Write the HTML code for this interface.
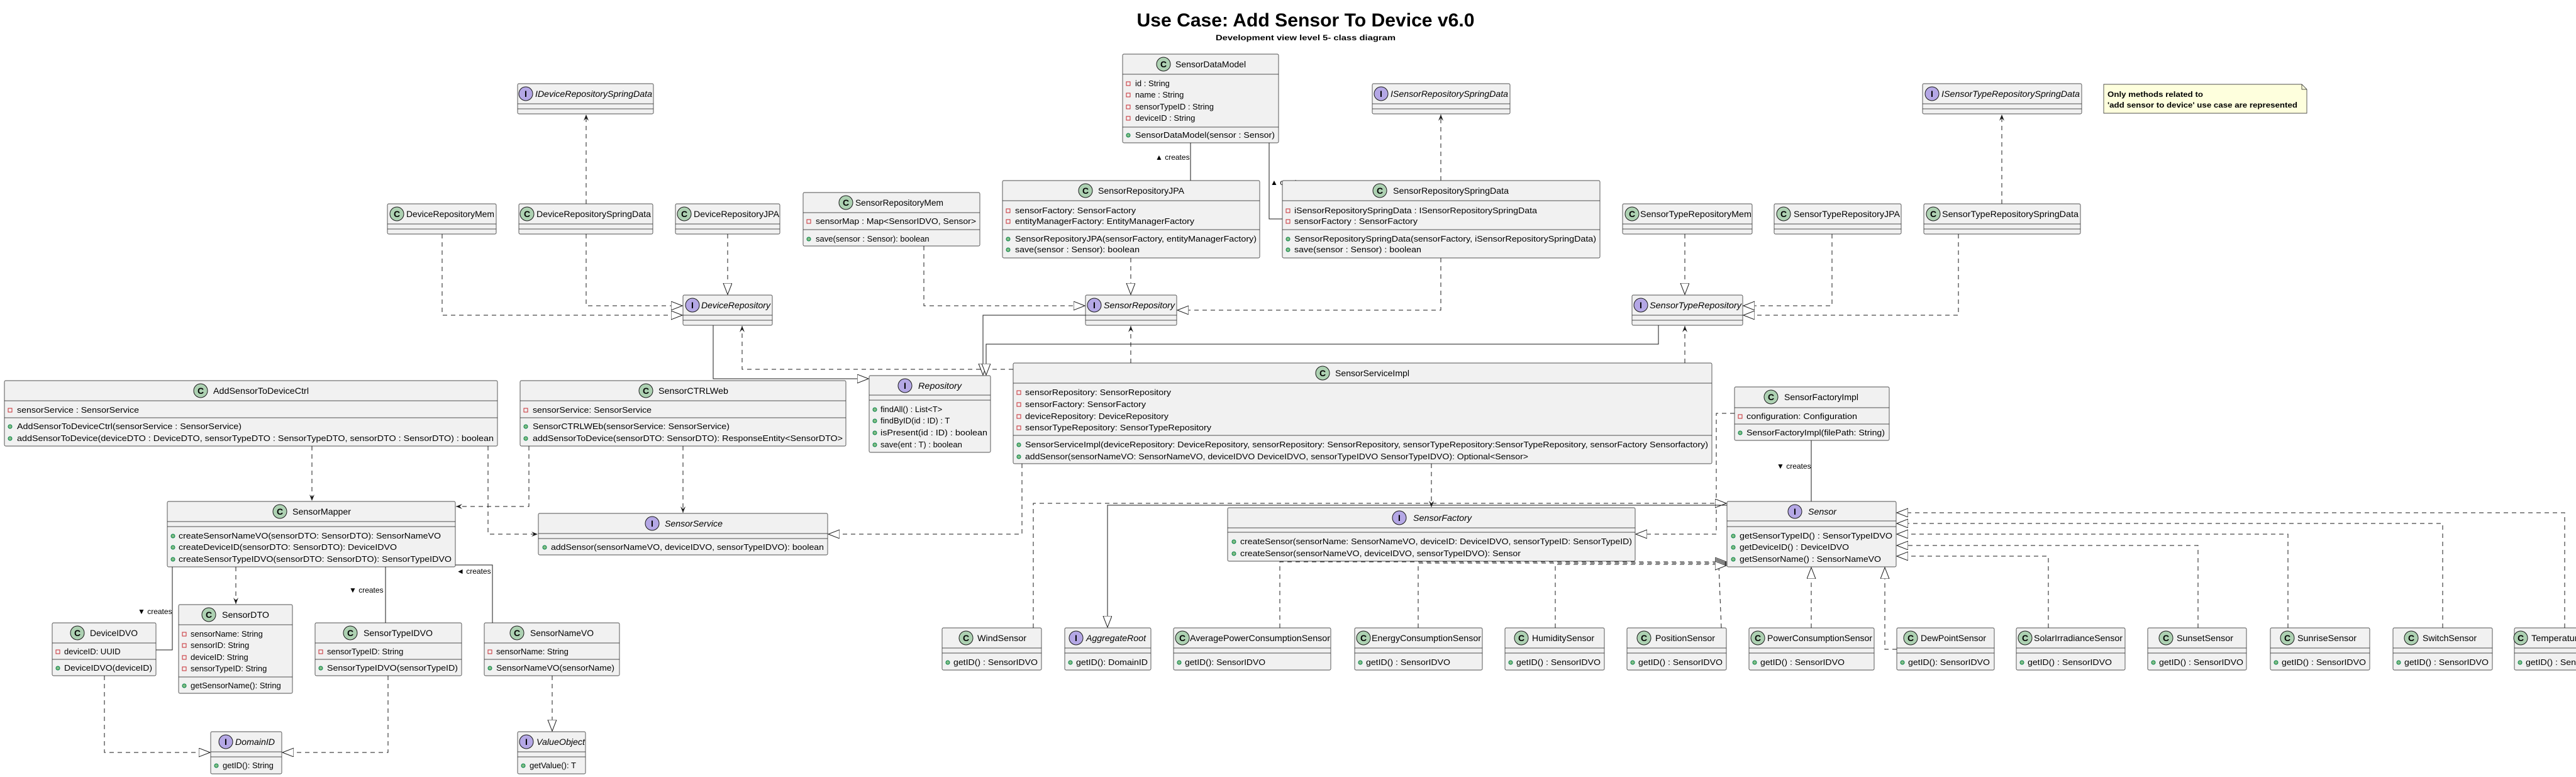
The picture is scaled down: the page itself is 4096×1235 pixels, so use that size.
<!DOCTYPE html>
<html><head><meta charset="utf-8"><style>
html,body{margin:0;padding:0;background:#fff;width:4096px;height:1235px;overflow:hidden}
svg{display:block;font-family:"Liberation Sans",sans-serif}
.b{fill:#F1F1F1;stroke:#181818;stroke-width:.7}
.s{stroke:#181818;stroke-width:.7}
.n{font-size:14px;fill:#000}
.i{font-style:italic}
.m{font-size:13px;fill:#000}
.c{fill:#ADD1B2;stroke:#181818;stroke-width:1}
.f{fill:#B4A7E5;stroke:#181818;stroke-width:1}
.L{font-size:14px;font-weight:bold;text-anchor:middle}
.pv{fill:none;stroke:#C82930;stroke-width:1}
.pb{fill:#84BE84;stroke:#038048;stroke-width:1}
.d{fill:none;stroke:#181818;stroke-width:1;stroke-dasharray:7,6}
.k{fill:none;stroke:#181818;stroke-width:1}
.lb{font-size:12px}
</style></head><body>
<svg width="4096" height="1235" viewBox="0 0 4096 1235" xmlns="http://www.w3.org/2000/svg">
<defs>
<marker id="t" markerWidth="22" markerHeight="18" refX="18" refY="7" orient="auto" markerUnits="userSpaceOnUse"><path d="M0,0 L18,7 L0,14 Z" fill="#fff" stroke="#181818"/></marker>
<marker id="a" markerWidth="12" markerHeight="10" refX="10" refY="4" orient="auto" markerUnits="userSpaceOnUse"><path d="M0,0 L10,4 L0,8 L4,4 Z" fill="#181818"/></marker>
</defs>

<!-- titles -->
<text x="2076" y="42" text-anchor="middle" font-size="30" font-weight="bold" textLength="537" lengthAdjust="spacingAndGlyphs">Use Case: Add Sensor To Device v6.0</text>
<text x="2076" y="64" text-anchor="middle" font-size="12" font-weight="bold" textLength="286" lengthAdjust="spacingAndGlyphs">Development view level 5- class diagram</text>

<!-- ========== CONNECTORS ========== -->
<polyline class="d" points="932,324 932,182" marker-end="url(#a)"/>
<polyline class="d" points="703,372 703,501 1085,501" marker-end="url(#t)"/>
<polyline class="d" points="932,372 932,486 1085,486" marker-end="url(#t)"/>
<polyline class="d" points="1157,372 1157,468" marker-end="url(#t)"/>
<polyline class="k" points="1134,517 1134,602 1381,602" marker-end="url(#t)"/>
<polyline class="d" points="1611,587 1180,587 1180,518" marker-end="url(#a)"/>
<line class="k" x1="1893" y1="227" x2="1893" y2="287"/>
<text x="1837" y="254" class="lb">▲ creates</text>
<polyline class="k" points="2018,227 2018,348 2039,348"/>
<text x="2020" y="294" class="lb">▲ creates</text>
<polyline class="d" points="2291,287 2291,182" marker-end="url(#a)"/>
<polyline class="d" points="1469,391 1469,486 1725,486" marker-end="url(#t)"/>
<polyline class="d" points="1798,410 1798,468" marker-end="url(#t)"/>
<polyline class="d" points="2291,410 2291,493 1872,493" marker-end="url(#t)"/>
<polyline class="k" points="1726,501 1563,501 1563,596" marker-end="url(#t)"/>
<polyline class="k" points="2637,517 2637,547 1568,547 1568,596" marker-end="url(#t)"/>
<polyline class="d" points="1798,577 1798,518" marker-end="url(#a)"/>
<polyline class="d" points="2679,577 2679,518" marker-end="url(#a)"/>
<polyline class="d" points="2679,372 2679,468" marker-end="url(#t)"/>
<polyline class="d" points="2913,372 2913,486 2772,486" marker-end="url(#t)"/>
<polyline class="d" points="3114,372 3114,501 2772,501" marker-end="url(#t)"/>
<polyline class="d" points="3183,324 3183,182" marker-end="url(#a)"/>
<polyline class="d" points="496,709 496,796" marker-end="url(#a)"/>
<polyline class="d" points="776,709 776,849 855,849" marker-end="url(#a)"/>
<polyline class="d" points="841,709 841,805 725,805" marker-end="url(#a)"/>
<polyline class="d" points="1086,709 1086,815" marker-end="url(#a)"/>
<polyline class="d" points="1625,737 1625,849 1317,849" marker-end="url(#t)"/>
<polyline class="k" points="274,901 274,1033 248,1033"/>
<text x="219" y="976" class="lb">▼ creates</text>
<polyline class="d" points="375,901 375,960" marker-end="url(#a)"/>
<line class="k" x1="613" y1="901" x2="613" y2="990"/>
<text x="555" y="942" class="lb">▼ creates</text>
<polyline class="k" points="783,990 783,898 724,898"/>
<text x="726" y="912" class="lb">◄ creates</text>
<polyline class="d" points="166,1074 166,1196 334,1196" marker-end="url(#t)"/>
<polyline class="d" points="617,1074 617,1196 449,1196" marker-end="url(#t)"/>
<polyline class="d" points="878,1074 878,1162" marker-end="url(#t)"/>
<polyline class="d" points="2276,737 2276,806" marker-end="url(#a)"/>
<polyline class="d" points="2758,657 2729,657 2729,849 2601,849" marker-end="url(#t)"/>
<line class="k" x1="2880" y1="700" x2="2880" y2="797"/>
<text x="2825" y="745" class="lb">▼ creates</text>
<polyline class="d" points="1643,998 1643,800 2745,800" marker-end="url(#t)"/>
<polyline class="k" points="2746,803 1761,803 1761,997" marker-end="url(#t)"/>
<polyline class="d" points="2035,998 2035,893 2745,893" marker-end="url(#t)"/>
<polyline class="d" points="2255,998 2255,895 2745,895" marker-end="url(#t)"/>
<polyline class="d" points="2473,998 2473,897 2745,897" marker-end="url(#t)"/>
<polyline class="d" points="2737,998 2733,899 2745,899" marker-end="url(#t)"/>
<polyline class="d" points="2880,998 2880,902" marker-end="url(#t)"/>
<polyline class="d" points="3016,1032 2997,1032 2997,902" marker-end="url(#t)"/>
<polyline class="d" points="3257,998 3257,884 3016,884" marker-end="url(#t)"/>
<polyline class="d" points="3495,998 3495,867 3016,867" marker-end="url(#t)"/>
<polyline class="d" points="3638,998 3638,849 3016,849" marker-end="url(#t)"/>
<polyline class="d" points="3884,998 3884,832 3016,832" marker-end="url(#t)"/>
<polyline class="d" points="4078,998 4078,815 3016,815" marker-end="url(#t)"/>

<!-- ========== BOXES ========== -->
<!-- IDeviceRepositorySpringData -->
<rect class="b" x="823" y="133" width="216" height="48" rx="2"/><line class="s" x1="823" x2="1039" y1="165" y2="165"/><line class="s" x1="823" x2="1039" y1="173" y2="173"/>
<circle class="f" cx="836" cy="149" r="11"/><text x="836" y="154" class="L">I</text><text x="851" y="154" class="n i" textLength="186" lengthAdjust="spacingAndGlyphs">IDeviceRepositorySpringData</text>
<!-- ISensorRepositorySpringData -->
<rect class="b" x="2182" y="133" width="219" height="48" rx="2"/><line class="s" x1="2182" x2="2401" y1="165" y2="165"/><line class="s" x1="2182" x2="2401" y1="173" y2="173"/>
<circle class="f" cx="2196" cy="149" r="11"/><text x="2196" y="154" class="L">I</text><text x="2211" y="154" class="n i" textLength="187" lengthAdjust="spacingAndGlyphs">ISensorRepositorySpringData</text>
<!-- ISensorTypeRepositorySpringData -->
<rect class="b" x="3057" y="133" width="253" height="48" rx="2"/><line class="s" x1="3057" x2="3310" y1="165" y2="165"/><line class="s" x1="3057" x2="3310" y1="173" y2="173"/>
<circle class="f" cx="3072" cy="149" r="11"/><text x="3072" y="154" class="L">I</text><text x="3087" y="154" class="n i" textLength="220" lengthAdjust="spacingAndGlyphs">ISensorTypeRepositorySpringData</text>
<!-- Note -->
<path d="M3345,134 L3660,134 L3668,142 L3668,180 L3345,180 Z" fill="#FEFFDD" stroke="#181818" stroke-width=".7"/><path d="M3660,134 L3660,142 L3668,142" fill="none" stroke="#181818" stroke-width=".7"/>
<text x="3351" y="154" font-size="12" font-weight="bold" textLength="152" lengthAdjust="spacingAndGlyphs">Only methods related to</text>
<text x="3351" y="171" font-size="12" font-weight="bold" textLength="302" lengthAdjust="spacingAndGlyphs">'add sensor to device' use case are represented</text>

<!-- SensorDataModel -->
<rect class="b" x="1785" y="86" width="248" height="141" rx="2"/><line class="s" x1="1785" x2="2033" y1="118" y2="118"/><line class="s" x1="1785" x2="2033" y1="202" y2="202"/>
<circle class="c" cx="1850" cy="102" r="11"/><text x="1850" y="107" class="L">C</text><text x="1869" y="107" class="n">SensorDataModel</text>
<rect class="pv" x="1791" y="130" width="6" height="6"/><text x="1805" y="137" class="m">id : String</text>
<rect class="pv" x="1791" y="148" width="6" height="6"/><text x="1805" y="155" class="m">name : String</text>
<rect class="pv" x="1791" y="167" width="6" height="6"/><text x="1805" y="174" class="m">sensorTypeID : String</text>
<rect class="pv" x="1791" y="185" width="6" height="6"/><text x="1805" y="192" class="m">deviceID : String</text>
<circle class="pb" cx="1794" cy="215" r="3"/><text x="1805" y="219" class="m" textLength="222" lengthAdjust="spacingAndGlyphs">SensorDataModel(sensor : Sensor)</text>

<!-- DeviceRepositoryMem -->
<rect class="b" x="616" y="324" width="173" height="48" rx="2"/><line class="s" x1="616" x2="789" y1="356" y2="356"/><line class="s" x1="616" x2="789" y1="364" y2="364"/>
<circle class="c" cx="631" cy="340" r="11"/><text x="631" y="345" class="L">C</text><text x="646" y="345" class="n" textLength="140" lengthAdjust="spacingAndGlyphs">DeviceRepositoryMem</text>
<!-- DeviceRepositorySpringData -->
<rect class="b" x="825" y="324" width="213" height="48" rx="2"/><line class="s" x1="825" x2="1038" y1="356" y2="356"/><line class="s" x1="825" x2="1038" y1="364" y2="364"/>
<circle class="c" cx="838" cy="340" r="11"/><text x="838" y="345" class="L">C</text><text x="853" y="345" class="n" textLength="182" lengthAdjust="spacingAndGlyphs">DeviceRepositorySpringData</text>
<!-- DeviceRepositoryJPA -->
<rect class="b" x="1074" y="324" width="166" height="48" rx="2"/><line class="s" x1="1074" x2="1240" y1="356" y2="356"/><line class="s" x1="1074" x2="1240" y1="364" y2="364"/>
<circle class="c" cx="1088" cy="340" r="11"/><text x="1088" y="345" class="L">C</text><text x="1103" y="345" class="n" textLength="136" lengthAdjust="spacingAndGlyphs">DeviceRepositoryJPA</text>

<!-- SensorRepositoryMem -->
<rect class="b" x="1277" y="306" width="281" height="85" rx="2"/><line class="s" x1="1277" x2="1558" y1="338" y2="338"/><line class="s" x1="1277" x2="1558" y1="365" y2="365"/>
<circle class="c" cx="1345" cy="322" r="11"/><text x="1345" y="327" class="L">C</text><text x="1360" y="327" class="n" textLength="140" lengthAdjust="spacingAndGlyphs">SensorRepositoryMem</text>
<rect class="pv" x="1283" y="349" width="6" height="6"/><text x="1297" y="356" class="m" textLength="255" lengthAdjust="spacingAndGlyphs">sensorMap : Map&lt;SensorIDVO, Sensor&gt;</text>
<circle class="pb" cx="1286" cy="380" r="3"/><text x="1297" y="384" class="m">save(sensor : Sensor): boolean</text>

<!-- SensorRepositoryJPA -->
<rect class="b" x="1594" y="287" width="409" height="123" rx="2"/><line class="s" x1="1594" x2="2003" y1="319" y2="319"/><line class="s" x1="1594" x2="2003" y1="365" y2="365"/>
<circle class="c" cx="1726" cy="303" r="11"/><text x="1726" y="308" class="L">C</text><text x="1746" y="308" class="n" textLength="137" lengthAdjust="spacingAndGlyphs">SensorRepositoryJPA</text>
<rect class="pv" x="1600" y="332" width="6" height="6"/><text x="1614" y="339" class="m" textLength="192" lengthAdjust="spacingAndGlyphs">sensorFactory: SensorFactory</text>
<rect class="pv" x="1600" y="349" width="6" height="6"/><text x="1614" y="356" class="m" textLength="285" lengthAdjust="spacingAndGlyphs">entityManagerFactory: EntityManagerFactory</text>
<circle class="pb" cx="1603" cy="380" r="3"/><text x="1614" y="384" class="m" textLength="384" lengthAdjust="spacingAndGlyphs">SensorRepositoryJPA(sensorFactory, entityManagerFactory)</text>
<circle class="pb" cx="1603" cy="397" r="3"/><text x="1614" y="401" class="m" textLength="198" lengthAdjust="spacingAndGlyphs">save(sensor : Sensor): boolean</text>

<!-- SensorRepositorySpringData -->
<rect class="b" x="2039" y="287" width="505" height="123" rx="2"/><line class="s" x1="2039" x2="2544" y1="319" y2="319"/><line class="s" x1="2039" x2="2544" y1="365" y2="365"/>
<circle class="c" cx="2194" cy="303" r="11"/><text x="2194" y="308" class="L">C</text><text x="2215" y="308" class="n" textLength="184" lengthAdjust="spacingAndGlyphs">SensorRepositorySpringData</text>
<rect class="pv" x="2045" y="332" width="6" height="6"/><text x="2058" y="339" class="m" textLength="386" lengthAdjust="spacingAndGlyphs">iSensorRepositorySpringData : ISensorRepositorySpringData</text>
<rect class="pv" x="2045" y="349" width="6" height="6"/><text x="2058" y="356" class="m" textLength="196" lengthAdjust="spacingAndGlyphs">sensorFactory : SensorFactory</text>
<circle class="pb" cx="2048" cy="380" r="3"/><text x="2058" y="384" class="m" textLength="480" lengthAdjust="spacingAndGlyphs">SensorRepositorySpringData(sensorFactory, iSensorRepositorySpringData)</text>
<circle class="pb" cx="2048" cy="397" r="3"/><text x="2058" y="401" class="m" textLength="202" lengthAdjust="spacingAndGlyphs">save(sensor : Sensor) : boolean</text>

<!-- SensorTypeRepositoryMem -->
<rect class="b" x="2580" y="324" width="206" height="48" rx="2"/><line class="s" x1="2580" x2="2786" y1="356" y2="356"/><line class="s" x1="2580" x2="2786" y1="364" y2="364"/>
<circle class="c" cx="2595" cy="340" r="11"/><text x="2595" y="345" class="L">C</text><text x="2608" y="345" class="n" textLength="177" lengthAdjust="spacingAndGlyphs">SensorTypeRepositoryMem</text>
<!-- SensorTypeRepositoryJPA -->
<rect class="b" x="2821" y="324" width="202" height="48" rx="2"/><line class="s" x1="2821" x2="3023" y1="356" y2="356"/><line class="s" x1="2821" x2="3023" y1="364" y2="364"/>
<circle class="c" cx="2836" cy="340" r="11"/><text x="2836" y="345" class="L">C</text><text x="2852" y="345" class="n" textLength="169" lengthAdjust="spacingAndGlyphs">SensorTypeRepositoryJPA</text>
<!-- SensorTypeRepositorySpringData -->
<rect class="b" x="3059" y="324" width="249" height="48" rx="2"/><line class="s" x1="3059" x2="3308" y1="356" y2="356"/><line class="s" x1="3059" x2="3308" y1="364" y2="364"/>
<circle class="c" cx="3074" cy="340" r="11"/><text x="3074" y="345" class="L">C</text><text x="3088" y="345" class="n" textLength="217" lengthAdjust="spacingAndGlyphs">SensorTypeRepositorySpringData</text>

<!-- DeviceRepository -->
<rect class="b" x="1086" y="469" width="142" height="48" rx="2"/><line class="s" x1="1086" x2="1228" y1="501" y2="501"/><line class="s" x1="1086" x2="1228" y1="509" y2="509"/>
<circle class="f" cx="1101" cy="485" r="11"/><text x="1101" y="490" class="L">I</text><text x="1115" y="490" class="n i" textLength="110" lengthAdjust="spacingAndGlyphs">DeviceRepository</text>
<!-- SensorRepository -->
<rect class="b" x="1726" y="469" width="145" height="48" rx="2"/><line class="s" x1="1726" x2="1871" y1="501" y2="501"/><line class="s" x1="1726" x2="1871" y1="509" y2="509"/>
<circle class="f" cx="1740" cy="485" r="11"/><text x="1740" y="490" class="L">I</text><text x="1755" y="490" class="n i" textLength="113" lengthAdjust="spacingAndGlyphs">SensorRepository</text>
<!-- SensorTypeRepository -->
<rect class="b" x="2595" y="469" width="176" height="48" rx="2"/><line class="s" x1="2595" x2="2771" y1="501" y2="501"/><line class="s" x1="2595" x2="2771" y1="509" y2="509"/>
<circle class="f" cx="2609" cy="485" r="11"/><text x="2609" y="490" class="L">I</text><text x="2623" y="490" class="n i" textLength="146" lengthAdjust="spacingAndGlyphs">SensorTypeRepository</text>

<!-- AddSensorToDeviceCtrl -->
<rect class="b" x="7" y="605" width="784" height="104" rx="2"/><line class="s" x1="7" x2="791" y1="637" y2="637"/><line class="s" x1="7" x2="791" y1="664" y2="664"/>
<circle class="c" cx="319" cy="621" r="11"/><text x="319" y="626" class="L">C</text><text x="339" y="626" class="n" textLength="152" lengthAdjust="spacingAndGlyphs">AddSensorToDeviceCtrl</text>
<rect class="pv" x="13" y="649" width="6" height="6"/><text x="27" y="656" class="m" textLength="194" lengthAdjust="spacingAndGlyphs">sensorService : SensorService</text>
<circle class="pb" cx="16" cy="678" r="3"/><text x="27" y="682" class="m" textLength="357" lengthAdjust="spacingAndGlyphs">AddSensorToDeviceCtrl(sensorService : SensorService)</text>
<circle class="pb" cx="16" cy="697" r="3"/><text x="27" y="701" class="m" textLength="758" lengthAdjust="spacingAndGlyphs">addSensorToDevice(deviceDTO : DeviceDTO, sensorTypeDTO : SensorTypeDTO, sensorDTO : SensorDTO) : boolean</text>

<!-- SensorCTRLWeb -->
<rect class="b" x="827" y="605" width="518" height="104" rx="2"/><line class="s" x1="827" x2="1345" y1="637" y2="637"/><line class="s" x1="827" x2="1345" y1="664" y2="664"/>
<circle class="c" cx="1027" cy="621" r="11"/><text x="1027" y="626" class="L">C</text><text x="1047" y="626" class="n" textLength="111" lengthAdjust="spacingAndGlyphs">SensorCTRLWeb</text>
<rect class="pv" x="833" y="649" width="6" height="6"/><text x="847" y="656" class="m" textLength="189" lengthAdjust="spacingAndGlyphs">sensorService: SensorService</text>
<circle class="pb" cx="836" cy="678" r="3"/><text x="847" y="682" class="m" textLength="313" lengthAdjust="spacingAndGlyphs">SensorCTRLWEb(sensorService: SensorService)</text>
<circle class="pb" cx="836" cy="697" r="3"/><text x="847" y="701" class="m" textLength="493" lengthAdjust="spacingAndGlyphs">addSensorToDevice(sensorDTO: SensorDTO): ResponseEntity&lt;SensorDTO&gt;</text>

<!-- Repository -->
<rect class="b" x="1382" y="597" width="193" height="122" rx="2"/><line class="s" x1="1382" x2="1575" y1="628" y2="628"/><line class="s" x1="1382" x2="1575" y1="636" y2="636"/>
<circle class="f" cx="1439" cy="613" r="11"/><text x="1439" y="618" class="L">I</text><text x="1460" y="618" class="n i" textLength="69" lengthAdjust="spacingAndGlyphs">Repository</text>
<circle class="pb" cx="1391" cy="651" r="3"/><text x="1400" y="655" class="m">findAll() : List&lt;T&gt;</text>
<circle class="pb" cx="1391" cy="669" r="3"/><text x="1400" y="673" class="m">findByID(id : ID) : T</text>
<circle class="pb" cx="1391" cy="688" r="3"/><text x="1400" y="692" class="m" textLength="170" lengthAdjust="spacingAndGlyphs">isPresent(id : ID) : boolean</text>
<circle class="pb" cx="1391" cy="707" r="3"/><text x="1400" y="711" class="m">save(ent : T) : boolean</text>

<!-- SensorServiceImpl -->
<rect class="b" x="1611" y="577" width="1111" height="160" rx="2"/><line class="s" x1="1611" x2="2722" y1="609" y2="609"/><line class="s" x1="1611" x2="2722" y1="692" y2="692"/>
<circle class="c" cx="2103" cy="593" r="11"/><text x="2103" y="598" class="L">C</text><text x="2123" y="598" class="n" textLength="118" lengthAdjust="spacingAndGlyphs">SensorServiceImpl</text>
<rect class="pv" x="1617" y="621" width="6" height="6"/><text x="1630" y="628" class="m" textLength="232" lengthAdjust="spacingAndGlyphs">sensorRepository: SensorRepository</text>
<rect class="pv" x="1617" y="640" width="6" height="6"/><text x="1630" y="647" class="m" textLength="192" lengthAdjust="spacingAndGlyphs">sensorFactory: SensorFactory</text>
<rect class="pv" x="1617" y="659" width="6" height="6"/><text x="1630" y="666" class="m" textLength="228" lengthAdjust="spacingAndGlyphs">deviceRepository: DeviceRepository</text>
<rect class="pv" x="1617" y="677" width="6" height="6"/><text x="1630" y="684" class="m" textLength="296" lengthAdjust="spacingAndGlyphs">sensorTypeRepository: SensorTypeRepository</text>
<circle class="pb" cx="1620" cy="707" r="3"/><text x="1630" y="711" class="m" textLength="1086" lengthAdjust="spacingAndGlyphs">SensorServiceImpl(deviceRepository: DeviceRepository, sensorRepository: SensorRepository, sensorTypeRepository:SensorTypeRepository, sensorFactory Sensorfactory)</text>
<circle class="pb" cx="1620" cy="726" r="3"/><text x="1630" y="730" class="m" textLength="800" lengthAdjust="spacingAndGlyphs">addSensor(sensorNameVO: SensorNameVO, deviceIDVO DeviceIDVO, sensorTypeIDVO SensorTypeIDVO): Optional&lt;Sensor&gt;</text>

<!-- SensorFactoryImpl -->
<rect class="b" x="2758" y="615" width="246" height="85" rx="2"/><line class="s" x1="2758" x2="3004" y1="648" y2="648"/><line class="s" x1="2758" x2="3004" y1="674" y2="674"/>
<circle class="c" cx="2816" cy="631" r="11"/><text x="2816" y="636" class="L">C</text><text x="2837" y="636" class="n" textLength="118" lengthAdjust="spacingAndGlyphs">SensorFactoryImpl</text>
<rect class="pv" x="2764" y="659" width="6" height="6"/><text x="2777" y="666" class="m" textLength="176" lengthAdjust="spacingAndGlyphs">configuration: Configuration</text>
<circle class="pb" cx="2767" cy="688" r="3"/><text x="2777" y="692" class="m" textLength="220" lengthAdjust="spacingAndGlyphs">SensorFactoryImpl(filePath: String)</text>

<!-- SensorMapper -->
<rect class="b" x="266" y="797" width="458" height="104" rx="2"/><line class="s" x1="266" x2="724" y1="829" y2="829"/><line class="s" x1="266" x2="724" y1="837" y2="837"/>
<circle class="c" cx="445" cy="813" r="11"/><text x="445" y="818" class="L">C</text><text x="465" y="818" class="n" textLength="93" lengthAdjust="spacingAndGlyphs">SensorMapper</text>
<circle class="pb" cx="275" cy="852" r="3"/><text x="284" y="856" class="m" textLength="417" lengthAdjust="spacingAndGlyphs">createSensorNameVO(sensorDTO: SensorDTO): SensorNameVO</text>
<circle class="pb" cx="275" cy="870" r="3"/><text x="284" y="874" class="m" textLength="347" lengthAdjust="spacingAndGlyphs">createDeviceID(sensorDTO: SensorDTO): DeviceIDVO</text>
<circle class="pb" cx="275" cy="889" r="3"/><text x="284" y="893" class="m" textLength="434" lengthAdjust="spacingAndGlyphs">createSensorTypeIDVO(sensorDTO: SensorDTO): SensorTypeIDVO</text>

<!-- SensorService -->
<rect class="b" x="856" y="816" width="460" height="66" rx="2"/><line class="s" x1="856" x2="1316" y1="848" y2="848"/><line class="s" x1="856" x2="1316" y1="856" y2="856"/>
<circle class="f" cx="1037" cy="832" r="11"/><text x="1037" y="837" class="L">I</text><text x="1057" y="837" class="n i" textLength="92" lengthAdjust="spacingAndGlyphs">SensorService</text>
<circle class="pb" cx="866" cy="870" r="3"/><text x="876" y="874" class="m" textLength="434" lengthAdjust="spacingAndGlyphs">addSensor(sensorNameVO, deviceIDVO, sensorTypeIDVO): boolean</text>

<!-- SensorFactory -->
<rect class="b" x="1952" y="807" width="648" height="85" rx="2"/><line class="s" x1="1952" x2="2600" y1="839" y2="839"/><line class="s" x1="1952" x2="2600" y1="846" y2="846"/>
<circle class="f" cx="2225" cy="823" r="11"/><text x="2225" y="828" class="L">I</text><text x="2247" y="828" class="n i" textLength="93" lengthAdjust="spacingAndGlyphs">SensorFactory</text>
<circle class="pb" cx="1962" cy="861" r="3"/><text x="1972" y="865" class="m" textLength="623" lengthAdjust="spacingAndGlyphs">createSensor(sensorName: SensorNameVO, deviceID: DeviceIDVO, sensorTypeID: SensorTypeID)</text>
<circle class="pb" cx="1962" cy="880" r="3"/><text x="1972" y="884" class="m" textLength="446" lengthAdjust="spacingAndGlyphs">createSensor(sensorNameVO, deviceIDVO, sensorTypeIDVO): Sensor</text>

<!-- Sensor -->
<rect class="b" x="2746" y="797" width="269" height="104" rx="2"/><line class="s" x1="2746" x2="3015" y1="828" y2="828"/><line class="s" x1="2746" x2="3015" y1="837" y2="837"/>
<circle class="f" cx="2854" cy="813" r="11"/><text x="2854" y="818" class="L">I</text><text x="2875" y="818" class="n i" textLength="45" lengthAdjust="spacingAndGlyphs">Sensor</text>
<circle class="pb" cx="2756" cy="852" r="3"/><text x="2766" y="856" class="m" textLength="243" lengthAdjust="spacingAndGlyphs">getSensorTypeID() : SensorTypeIDVO</text>
<circle class="pb" cx="2756" cy="870" r="3"/><text x="2766" y="874" class="m" textLength="174" lengthAdjust="spacingAndGlyphs">getDeviceID() : DeviceIDVO</text>
<circle class="pb" cx="2756" cy="889" r="3"/><text x="2766" y="893" class="m" textLength="225" lengthAdjust="spacingAndGlyphs">getSensorName() : SensorNameVO</text>

<!-- DeviceIDVO -->
<rect class="b" x="83" y="990" width="165" height="84" rx="2"/><line class="s" x1="83" x2="248" y1="1022" y2="1022"/><line class="s" x1="83" x2="248" y1="1048" y2="1048"/>
<circle class="c" cx="123" cy="1006" r="11"/><text x="123" y="1011" class="L">C</text><text x="143" y="1011" class="n" textLength="76" lengthAdjust="spacingAndGlyphs">DeviceIDVO</text>
<rect class="pv" x="89" y="1033" width="6" height="6"/><text x="102" y="1040" class="m">deviceID: UUID</text>
<circle class="pb" cx="92" cy="1062" r="3"/><text x="102" y="1066" class="m" textLength="140" lengthAdjust="spacingAndGlyphs">DeviceIDVO(deviceID)</text>

<!-- SensorDTO -->
<rect class="b" x="284" y="961" width="181" height="141" rx="2"/><line class="s" x1="284" x2="465" y1="993" y2="993"/><line class="s" x1="284" x2="465" y1="1076" y2="1076"/>
<circle class="c" cx="332" cy="977" r="11"/><text x="332" y="982" class="L">C</text><text x="353" y="982" class="n" textLength="75" lengthAdjust="spacingAndGlyphs">SensorDTO</text>
<rect class="pv" x="290" y="1005" width="6" height="6"/><text x="303" y="1012" class="m">sensorName: String</text>
<rect class="pv" x="290" y="1023" width="6" height="6"/><text x="303" y="1030" class="m">sensorID: String</text>
<rect class="pv" x="290" y="1042" width="6" height="6"/><text x="303" y="1049" class="m">deviceID: String</text>
<rect class="pv" x="290" y="1060" width="6" height="6"/><text x="303" y="1067" class="m">sensorTypeID: String</text>
<circle class="pb" cx="293" cy="1090" r="3"/><text x="303" y="1094" class="m">getSensorName(): String</text>

<!-- SensorTypeIDVO -->
<rect class="b" x="501" y="990" width="233" height="84" rx="2"/><line class="s" x1="501" x2="734" y1="1022" y2="1022"/><line class="s" x1="501" x2="734" y1="1048" y2="1048"/>
<circle class="c" cx="557" cy="1006" r="11"/><text x="557" y="1011" class="L">C</text><text x="578" y="1011" class="n" textLength="110" lengthAdjust="spacingAndGlyphs">SensorTypeIDVO</text>
<rect class="pv" x="507" y="1033" width="6" height="6"/><text x="520" y="1040" class="m">sensorTypeID: String</text>
<circle class="pb" cx="510" cy="1062" r="3"/><text x="520" y="1066" class="m" textLength="208" lengthAdjust="spacingAndGlyphs">SensorTypeIDVO(sensorTypeID)</text>

<!-- SensorNameVO -->
<rect class="b" x="770" y="990" width="215" height="84" rx="2"/><line class="s" x1="770" x2="985" y1="1022" y2="1022"/><line class="s" x1="770" x2="985" y1="1048" y2="1048"/>
<circle class="c" cx="822" cy="1006" r="11"/><text x="822" y="1011" class="L">C</text><text x="843" y="1011" class="n" textLength="101" lengthAdjust="spacingAndGlyphs">SensorNameVO</text>
<rect class="pv" x="776" y="1033" width="6" height="6"/><text x="789" y="1040" class="m">sensorName: String</text>
<circle class="pb" cx="779" cy="1062" r="3"/><text x="789" y="1066" class="m" textLength="188" lengthAdjust="spacingAndGlyphs">SensorNameVO(sensorName)</text>

<!-- DomainID -->
<rect class="b" x="335" y="1163" width="113" height="67" rx="2"/><line class="s" x1="335" x2="448" y1="1195" y2="1195"/><line class="s" x1="335" x2="448" y1="1203" y2="1203"/>
<circle class="f" cx="359" cy="1179" r="11"/><text x="359" y="1184" class="L">I</text><text x="374" y="1184" class="n i" textLength="63" lengthAdjust="spacingAndGlyphs">DomainID</text>
<circle class="pb" cx="344" cy="1217" r="3"/><text x="354" y="1221" class="m">getID(): String</text>
<!-- ValueObject -->
<rect class="b" x="823" y="1163" width="108" height="67" rx="2"/><line class="s" x1="823" x2="931" y1="1195" y2="1195"/><line class="s" x1="823" x2="931" y1="1203" y2="1203"/>
<circle class="f" cx="837" cy="1179" r="11"/><text x="837" y="1184" class="L">I</text><text x="853" y="1184" class="n i" textLength="77" lengthAdjust="spacingAndGlyphs">ValueObject</text>
<circle class="pb" cx="832" cy="1217" r="3"/><text x="842" y="1221" class="m">getValue(): T</text>

<!-- Bottom row -->
<rect class="b" x="1498" y="998" width="158" height="67" rx="2"/><line class="s" x1="1498" x2="1656" y1="1030" y2="1030"/><line class="s" x1="1498" x2="1656" y1="1038" y2="1038"/>
<circle class="c" cx="1536" cy="1014" r="11"/><text x="1536" y="1019" class="L">C</text><text x="1554" y="1019" class="n" textLength="78" lengthAdjust="spacingAndGlyphs">WindSensor</text>
<circle class="pb" cx="1507" cy="1053" r="3"/><text x="1516" y="1057" class="m" textLength="134" lengthAdjust="spacingAndGlyphs">getID() : SensorIDVO</text>

<rect class="b" x="1693" y="998" width="137" height="67" rx="2"/><line class="s" x1="1693" x2="1830" y1="1030" y2="1030"/><line class="s" x1="1693" x2="1830" y1="1038" y2="1038"/>
<circle class="f" cx="1711" cy="1014" r="11"/><text x="1711" y="1019" class="L">I</text><text x="1727" y="1019" class="n i" textLength="95" lengthAdjust="spacingAndGlyphs">AggregateRoot</text>
<circle class="pb" cx="1702" cy="1053" r="3"/><text x="1711" y="1057" class="m" textLength="114" lengthAdjust="spacingAndGlyphs">getID(): DomainID</text>

<rect class="b" x="1866" y="998" width="250" height="67" rx="2"/><line class="s" x1="1866" x2="2116" y1="1030" y2="1030"/><line class="s" x1="1866" x2="2116" y1="1038" y2="1038"/>
<circle class="c" cx="1880" cy="1014" r="11"/><text x="1880" y="1019" class="L">C</text><text x="1892" y="1019" class="n" textLength="223" lengthAdjust="spacingAndGlyphs">AveragePowerConsumptionSensor</text>
<circle class="pb" cx="1875" cy="1053" r="3"/><text x="1884" y="1057" class="m" textLength="128" lengthAdjust="spacingAndGlyphs">getID(): SensorIDVO</text>

<rect class="b" x="2154" y="998" width="203" height="67" rx="2"/><line class="s" x1="2154" x2="2357" y1="1030" y2="1030"/><line class="s" x1="2154" x2="2357" y1="1038" y2="1038"/>
<circle class="c" cx="2168" cy="1014" r="11"/><text x="2168" y="1019" class="L">C</text><text x="2181" y="1019" class="n" textLength="174" lengthAdjust="spacingAndGlyphs">EnergyConsumptionSensor</text>
<circle class="pb" cx="2163" cy="1053" r="3"/><text x="2172" y="1057" class="m" textLength="134" lengthAdjust="spacingAndGlyphs">getID() : SensorIDVO</text>

<rect class="b" x="2393" y="998" width="158" height="67" rx="2"/><line class="s" x1="2393" x2="2551" y1="1030" y2="1030"/><line class="s" x1="2393" x2="2551" y1="1038" y2="1038"/>
<circle class="c" cx="2419" cy="1014" r="11"/><text x="2419" y="1019" class="L">C</text><text x="2436" y="1019" class="n" textLength="99" lengthAdjust="spacingAndGlyphs">HumiditySensor</text>
<circle class="pb" cx="2402" cy="1053" r="3"/><text x="2411" y="1057" class="m" textLength="134" lengthAdjust="spacingAndGlyphs">getID() : SensorIDVO</text>

<rect class="b" x="2587" y="998" width="158" height="67" rx="2"/><line class="s" x1="2587" x2="2745" y1="1030" y2="1030"/><line class="s" x1="2587" x2="2745" y1="1038" y2="1038"/>
<circle class="c" cx="2614" cy="1014" r="11"/><text x="2614" y="1019" class="L">C</text><text x="2632" y="1019" class="n" textLength="95" lengthAdjust="spacingAndGlyphs">PositionSensor</text>
<circle class="pb" cx="2596" cy="1053" r="3"/><text x="2605" y="1057" class="m" textLength="134" lengthAdjust="spacingAndGlyphs">getID() : SensorIDVO</text>

<rect class="b" x="2781" y="998" width="199" height="67" rx="2"/><line class="s" x1="2781" x2="2980" y1="1030" y2="1030"/><line class="s" x1="2781" x2="2980" y1="1038" y2="1038"/>
<circle class="c" cx="2795" cy="1014" r="11"/><text x="2795" y="1019" class="L">C</text><text x="2810" y="1019" class="n" textLength="167" lengthAdjust="spacingAndGlyphs">PowerConsumptionSensor</text>
<circle class="pb" cx="2790" cy="1053" r="3"/><text x="2799" y="1057" class="m" textLength="134" lengthAdjust="spacingAndGlyphs">getID() : SensorIDVO</text>

<rect class="b" x="3016" y="998" width="155" height="67" rx="2"/><line class="s" x1="3016" x2="3171" y1="1030" y2="1030"/><line class="s" x1="3016" x2="3171" y1="1038" y2="1038"/>
<circle class="c" cx="3038" cy="1014" r="11"/><text x="3038" y="1019" class="L">C</text><text x="3054" y="1019" class="n" textLength="104" lengthAdjust="spacingAndGlyphs">DewPointSensor</text>
<circle class="pb" cx="3025" cy="1053" r="3"/><text x="3034" y="1057" class="m" textLength="130" lengthAdjust="spacingAndGlyphs">getID(): SensorIDVO</text>

<rect class="b" x="3206" y="998" width="173" height="67" rx="2"/><line class="s" x1="3206" x2="3379" y1="1030" y2="1030"/><line class="s" x1="3206" x2="3379" y1="1038" y2="1038"/>
<circle class="c" cx="3220" cy="1014" r="11"/><text x="3220" y="1019" class="L">C</text><text x="3234" y="1019" class="n" textLength="141" lengthAdjust="spacingAndGlyphs">SolarIrradianceSensor</text>
<circle class="pb" cx="3215" cy="1053" r="3"/><text x="3224" y="1057" class="m" textLength="134" lengthAdjust="spacingAndGlyphs">getID() : SensorIDVO</text>

<rect class="b" x="3415" y="998" width="157" height="67" rx="2"/><line class="s" x1="3415" x2="3572" y1="1030" y2="1030"/><line class="s" x1="3415" x2="3572" y1="1038" y2="1038"/>
<circle class="c" cx="3444" cy="1014" r="11"/><text x="3444" y="1019" class="L">C</text><text x="3461" y="1019" class="n" textLength="90" lengthAdjust="spacingAndGlyphs">SunsetSensor</text>
<circle class="pb" cx="3424" cy="1053" r="3"/><text x="3433" y="1057" class="m" textLength="134" lengthAdjust="spacingAndGlyphs">getID() : SensorIDVO</text>

<rect class="b" x="3610" y="998" width="158" height="67" rx="2"/><line class="s" x1="3610" x2="3768" y1="1030" y2="1030"/><line class="s" x1="3610" x2="3768" y1="1038" y2="1038"/>
<circle class="c" cx="3637" cy="1014" r="11"/><text x="3637" y="1019" class="L">C</text><text x="3653" y="1019" class="n" textLength="94" lengthAdjust="spacingAndGlyphs">SunriseSensor</text>
<circle class="pb" cx="3619" cy="1053" r="3"/><text x="3628" y="1057" class="m" textLength="134" lengthAdjust="spacingAndGlyphs">getID() : SensorIDVO</text>

<rect class="b" x="3805" y="998" width="158" height="67" rx="2"/><line class="s" x1="3805" x2="3963" y1="1030" y2="1030"/><line class="s" x1="3805" x2="3963" y1="1038" y2="1038"/>
<circle class="c" cx="3834" cy="1014" r="11"/><text x="3834" y="1019" class="L">C</text><text x="3852" y="1019" class="n" textLength="86" lengthAdjust="spacingAndGlyphs">SwitchSensor</text>
<circle class="pb" cx="3814" cy="1053" r="3"/><text x="3823" y="1057" class="m" textLength="134" lengthAdjust="spacingAndGlyphs">getID() : SensorIDVO</text>

<rect class="b" x="3998" y="998" width="170" height="67" rx="2"/><line class="s" x1="3998" x2="4168" y1="1030" y2="1030"/><line class="s" x1="3998" x2="4168" y1="1038" y2="1038"/>
<circle class="c" cx="4008" cy="1014" r="11"/><text x="4008" y="1019" class="L">C</text><text x="4025" y="1019" class="n" textLength="128" lengthAdjust="spacingAndGlyphs">TemperatureSensor</text>
<circle class="pb" cx="4007" cy="1053" r="3"/><text x="4016" y="1057" class="m" textLength="134" lengthAdjust="spacingAndGlyphs">getID() : SensorIDVO</text>
</svg>
</body></html>
